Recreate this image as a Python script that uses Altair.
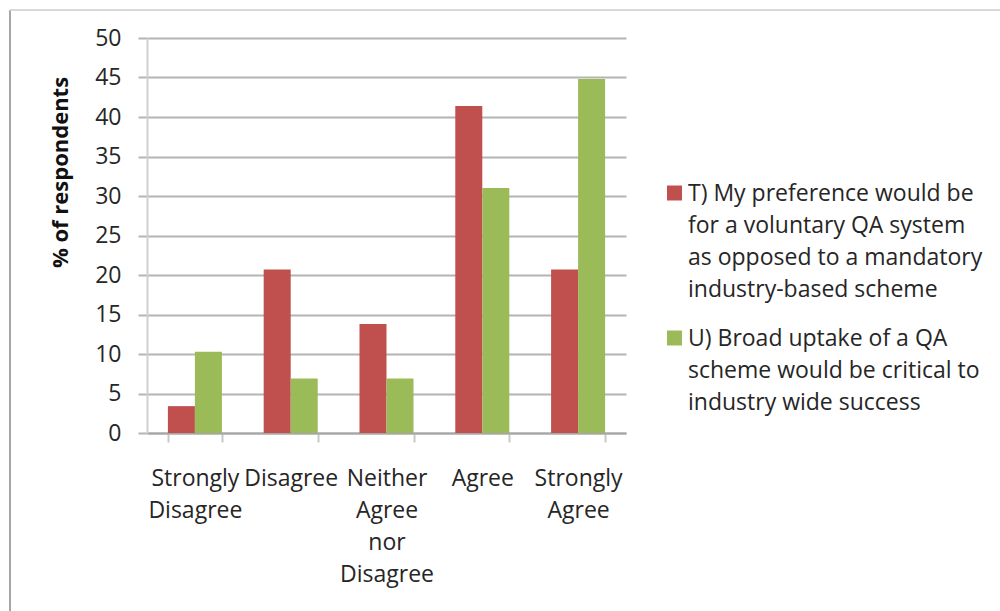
import altair as alt
import pandas as pd

# Survey responses (% of respondents) for two statements
categories = ["Strongly Disagree", "Disagree", "Neither Agree nor Disagree", "Agree", "Strongly Agree"]
series_names = ["T", "U"]
series_lines = [
    ["T) My preference would be", "for a voluntary QA system",
     "as opposed to a mandatory", "industry-based scheme"],
    ["U) Broad uptake of a QA", "scheme would be critical to",
     "industry wide success"],
]
t_values = [3.4, 20.7, 13.8, 41.4, 20.7]
u_values = [10.3, 6.9, 6.9, 31.0, 44.8]
colors = ["#C0504D", "#9BBB59"]

rows = []
for cat, t, u in zip(categories, t_values, u_values):
    rows.append({"response": cat, "series": "T", "pct": t})
    rows.append({"response": cat, "series": "U", "pct": u})
df = pd.DataFrame(rows)

W, H = 479, 395
PAD_L, PAD_T = 147, 38
FONT = "Open Sans"
TXT = "#262626"
FS = 23

color_enc = alt.Color("series:N", scale=alt.Scale(domain=series_names, range=colors), legend=None)

bars = alt.Chart(df).mark_bar().encode(
    x=alt.X(
        "response:N", sort=categories,
        scale=alt.Scale(paddingInner=0.436, paddingOuter=0.218),
        axis=alt.Axis(
            title=None, labelAngle=0, labelExpr="split(datum.label, ' ')",
            labelLineHeight=32, labelBaseline="alphabetic", labelPadding=43,
            labelFont=FONT, labelFontSize=FS, labelColor=TXT, labelLimit=300,
            labelOverlap=False, tickBand="extent", tickSize=9, tickColor="#c8c8c8",
            tickWidth=2, domainColor="#a6a6a6", domainWidth=2, grid=False,
        ),
    ),
    xOffset=alt.XOffset("series:N", sort=series_names),
    y=alt.Y(
        "pct:Q", scale=alt.Scale(domain=[0, 50]),
        axis=alt.Axis(
            values=list(range(0, 51, 5)), title="% of respondents",
            titleFont=FONT, titleFontSize=22, titleFontWeight="bold", titleColor="#111111",
            titleX=60 - PAD_L, titleY=172 - PAD_T, titleAlign="center", titleBaseline="middle",
            titleAngle=270,
            labelFont=FONT, labelFontSize=FS, labelColor=TXT, labelPadding=17,
            tickSize=9, tickColor="#b4b4b4", tickWidth=2,
            grid=True, gridColor="#b4b4b4", gridWidth=2,
            domainColor="#d0d0d0", domainWidth=2,
        ),
    ),
    color=color_enc,
)

one = pd.DataFrame({"k": [0]})

# Chart-area frame (left and top edges)
frame_left = alt.Chart(one).mark_rule(color="#a6a6a6", strokeWidth=2).encode(
    x=alt.value(10 - PAD_L), y=alt.value(10 - PAD_T), y2=alt.value(611 - PAD_T)
)
frame_top = alt.Chart(one).mark_rule(color="#d9d9d9", strokeWidth=2).encode(
    x=alt.value(10 - PAD_L), x2=alt.value(1000 - PAD_L), y=alt.value(10 - PAD_T)
)

# Legend with wrapped labels
legend_layers = []
LINE_H = 32
y_entry = 155
for name, lines in zip(series_names, series_lines):
    entry = pd.DataFrame({"series": [name]})
    sq = alt.Chart(entry).mark_square(size=225, opacity=1).encode(
        x=alt.value(674.5 - PAD_L), y=alt.value(y_entry), color=color_enc
    )
    txt = alt.Chart(entry).mark_text(
        text=lines, align="left", baseline="alphabetic", lineHeight=LINE_H,
        font=FONT, fontSize=FS, color=TXT,
    ).encode(x=alt.value(688 - PAD_L), y=alt.value(y_entry + 8))
    legend_layers += [sq, txt]
    y_entry += len(lines) * LINE_H + 17

chart = alt.layer(frame_left, frame_top, bars, *legend_layers).properties(
    width=W, height=H,
    padding={"left": PAD_L, "top": PAD_T, "right": 1000 - PAD_L - W, "bottom": 611 - PAD_T - H},
    autosize=alt.AutoSizeParams(type="none"),
    background="white",
).configure_view(stroke=None)

chart.save("out.html", embed_options={"renderer": "svg", "actions": False})
